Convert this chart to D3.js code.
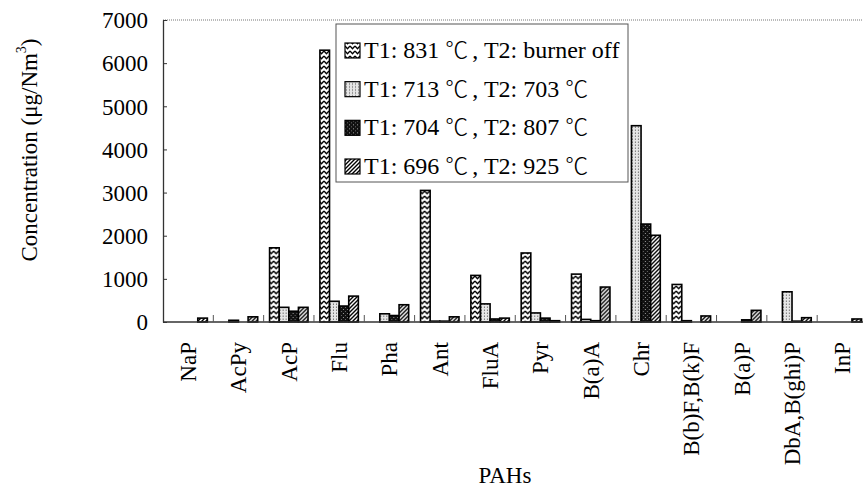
<!DOCTYPE html>
<html>
<head>
<meta charset="utf-8">
<script src="https://cdn.jsdelivr.net/npm/d3@7"></script>
<style>
  html, body { margin: 0; padding: 0; background: #fff; }
  svg { display: block; }
  text { font-family: "Liberation Serif", "Times New Roman", serif; fill: #000; }
  .cjk { font-family: "Noto Sans CJK SC", "Noto Sans CJK JP", sans-serif; font-weight: 300; }
</style>
</head>
<body>
<svg id="chart" width="863" height="490"></svg>
<script>
// PAH species on the category axis
const categories = ["NaP", "AcPy", "AcP", "Flu", "Pha", "Ant", "FluA", "Pyr",
  "B(a)A", "Chr", "B(b)F,B(k)F", "B(a)P", "DbA,B(ghi)P", "InP"];

// Legend labels of the four operating conditions
const seriesNames = [
  "T1: 831 \u2103, T2: burner off",
  "T1: 713 \u2103, T2: 703 \u2103",
  "T1: 704 \u2103, T2: 807 \u2103",
  "T1: 696 \u2103, T2: 925 \u2103"
];

// Concentrations (µg/Nm3) for each condition, in category order
const burnerOff = [0, 0, 1720, 6300, 0, 3050, 1080, 1600, 1110, 0, 870, 0, 0, 0];
const t2_703 = [0, 40, 340, 480, 190, 20, 420, 210, 60, 4550, 30, 0, 700, 0];
const t2_807 = [0, 0, 250, 370, 150, 20, 70, 90, 30, 2270, 0, 50, 20, 0];
const t2_925 = [90, 120, 340, 600, 400, 120, 90, 30, 810, 2010, 140, 270, 100, 70];

const yTicks = [0, 1000, 2000, 3000, 4000, 5000, 6000, 7000];

const seriesValues = [burnerOff, t2_703, t2_807, t2_925];
const patternIds = ["pZig", "pDots", "pDark", "pHatch"];

const svg = d3.select("#chart");
const margin = { left: 163, top: 20, right: 867.5, bottom: 322 };

// ---- fill patterns ----
const defs = svg.append("defs");

// zigzag rows
const zig = defs.append("pattern").attr("id", "pZig")
  .attr("patternUnits", "userSpaceOnUse").attr("width", 5).attr("height", 5);
zig.append("rect").attr("width", 5).attr("height", 5).attr("fill", "#fff");
zig.append("path").attr("d", "M0,1 L2.5,3.8 L5,1").attr("fill", "none")
  .attr("stroke", "#000").attr("stroke-width", 1.3);

// light stipple
const dots = defs.append("pattern").attr("id", "pDots")
  .attr("patternUnits", "userSpaceOnUse").attr("width", 3).attr("height", 3);
dots.append("rect").attr("width", 3).attr("height", 3).attr("fill", "#e6e6e6");
dots.append("rect").attr("x", 1).attr("y", 1).attr("width", 1).attr("height", 1).attr("fill", "#777");
dots.append("rect").attr("x", 1).attr("y", 0).attr("width", 1).attr("height", 1).attr("fill", "#aaa");

// dark with white specks
const dark = defs.append("pattern").attr("id", "pDark")
  .attr("patternUnits", "userSpaceOnUse").attr("width", 4).attr("height", 4);
dark.append("rect").attr("width", 4).attr("height", 4).attr("fill", "#111");
dark.append("rect").attr("x", 1).attr("y", 1).attr("width", 1).attr("height", 1).attr("fill", "#999");
dark.append("rect").attr("x", 3).attr("y", 3).attr("width", 1).attr("height", 1).attr("fill", "#666");

// diagonal hatch
const hatch = defs.append("pattern").attr("id", "pHatch")
  .attr("patternUnits", "userSpaceOnUse").attr("width", 4).attr("height", 4);
hatch.append("rect").attr("width", 4).attr("height", 4).attr("fill", "#fff");
hatch.append("path").attr("d", "M-1,1 L1,-1 M0,4 L4,0 M3,5 L5,3")
  .attr("stroke", "#000").attr("stroke-width", 1.4);

// ---- scales ----
const x = d3.scaleBand().domain(categories).range([margin.left, margin.right]);
const xInner = d3.scaleBand().domain(d3.range(seriesValues.length))
  .range([x.bandwidth() * 0.118, x.bandwidth() * 0.882]);
const y = d3.scaleLinear().domain([0, 7000]).range([margin.bottom, margin.top]);

// ---- frame ----
svg.append("line")
  .attr("x1", margin.left).attr("x2", margin.right)
  .attr("y1", y(7000)).attr("y2", y(7000))
  .attr("stroke", "#777").attr("stroke-width", 1).attr("stroke-dasharray", "1,1");

// ---- y axis ----
const yAxis = d3.axisLeft(y).tickValues(yTicks).tickFormat(d3.format("d"))
  .tickSize(-4).tickSizeOuter(0).tickPadding(15);
const yg = svg.append("g").attr("transform", `translate(${margin.left},0)`).call(yAxis);
yg.select(".domain").attr("stroke", "#333").attr("stroke-width", 1.3);
yg.selectAll(".tick line").attr("stroke", "#333");
yg.selectAll(".tick text").attr("font-size", 23)
  .attr("font-family", "Liberation Serif, serif").attr("dy", "0.34em");

// ---- bars ----
const groups = svg.append("g").selectAll("g")
  .data(categories)
  .join("g")
  .attr("transform", d => `translate(${x(d)},0)`);

groups.selectAll("rect")
  .data((d, i) => seriesValues.map((vals, s) => ({ s, v: vals[i] })))
  .join("rect")
  .filter(d => d.v > 0)
  .attr("x", d => xInner(d.s))
  .attr("width", xInner.bandwidth())
  .attr("y", d => y(d.v))
  .attr("height", d => y(0) - y(d.v))
  .attr("fill", d => `url(#${patternIds[d.s]})`)
  .attr("stroke", "#000")
  .attr("stroke-width", 1.6);

// ---- x axis ----
svg.append("line")
  .attr("x1", margin.left).attr("x2", margin.right)
  .attr("y1", y(0)).attr("y2", y(0))
  .attr("stroke", "#333").attr("stroke-width", 1.6);

// separators between categories
svg.append("g").selectAll("line")
  .data(categories.slice(1))
  .join("line")
  .attr("x1", d => x(d)).attr("x2", d => x(d))
  .attr("y1", y(0)).attr("y2", y(0) - 7)
  .attr("stroke", "#555").attr("stroke-width", 1);

// category labels, rotated
svg.append("g").selectAll("text")
  .data(categories)
  .join("text")
  .attr("transform", d => `translate(${x(d) + x.bandwidth() / 2 + 8},${y(0) + 20}) rotate(-90)`)
  .attr("text-anchor", "end")
  .attr("font-size", 23)
  .text(d => d);

// axis titles
svg.append("text")
  .attr("x", 505).attr("y", 483)
  .attr("text-anchor", "middle")
  .attr("font-size", 23)
  .text("PAHs");

const yTitle = svg.append("text")
  .attr("transform", "translate(37,150) rotate(-90)")
  .attr("text-anchor", "middle")
  .attr("font-size", 23);
yTitle.append("tspan").text("Concentration (\u03bcg/Nm");
yTitle.append("tspan").attr("font-size", 14).attr("dy", -11).text("3");
yTitle.append("tspan").attr("dy", 11).text(")");

// ---- legend ----
const legend = svg.append("g");
legend.append("rect")
  .attr("x", 336).attr("y", 24).attr("width", 292).attr("height", 158)
  .attr("fill", "#fff").attr("stroke", "#555").attr("stroke-width", 1);

const rowY = d3.scalePoint().domain(d3.range(seriesNames.length)).range([50, 166]);
const items = legend.selectAll("g.item")
  .data(seriesNames)
  .join("g")
  .attr("class", "item")
  .attr("transform", (d, i) => `translate(0,${rowY(i)})`);

items.append("rect")
  .attr("x", 345).attr("y", -7).attr("width", 15).attr("height", 15)
  .attr("fill", (d, i) => `url(#${patternIds[i]})`)
  .attr("stroke", "#000").attr("stroke-width", 1.2);

// the degree-Celsius sign is set in a CJK face, the rest in the serif face
const itemText = items.append("text")
  .attr("x", 364).attr("y", 8)
  .attr("font-size", 24);
itemText.each(function (d) {
  const t = d3.select(this);
  let afterSign = false;
  d.split(/(\u2103)/).forEach(part => {
    if (!part) return;
    const span = t.append("tspan").text(part);
    if (part === "\u2103") {
      span.attr("class", "cjk").attr("font-size", 23);
      afterSign = true;
    } else if (afterSign) {
      span.attr("dx", 4);
      afterSign = false;
    }
  });
});
</script>
</body>
</html>
